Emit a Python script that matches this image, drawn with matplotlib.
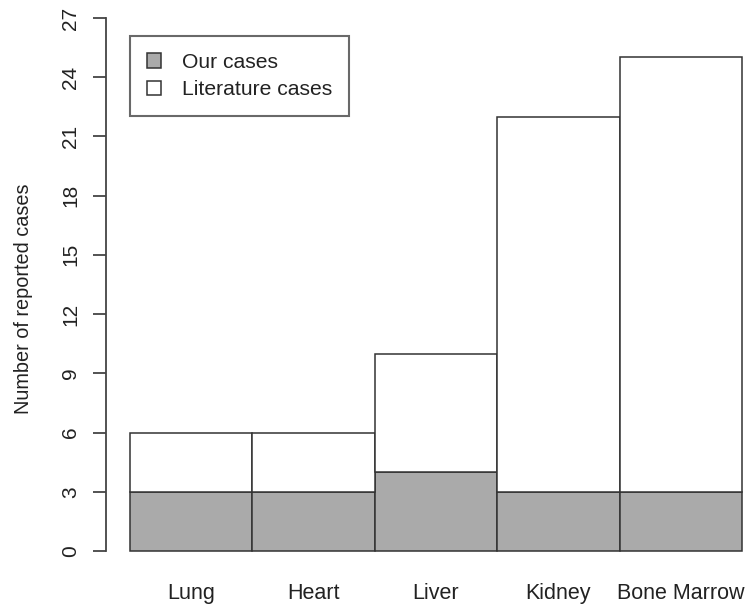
import matplotlib
matplotlib.use("Agg")
import matplotlib.pyplot as plt
from matplotlib.patches import Patch

categories = ["Lung", "Heart", "Liver", "Kidney", "Bone Marrow"]
our_cases = [3, 3, 4, 3, 3]
literature_cases = [3, 3, 6, 19, 22]
y_ticks = [0, 3, 6, 9, 12, 15, 18, 21, 24, 27]

plt.rcParams['font.family'] = ['Liberation Sans', 'DejaVu Sans']
W, H = 750, 609
fig = plt.figure(figsize=(W / 100, H / 100), dpi=100)

ax_left, ax_bottom_px = 105.5, 572.3
ax = fig.add_axes([ax_left / W, (H - ax_bottom_px) / H, (W - ax_left) / W, ax_bottom_px / H])

edge = "#333333"
gray = "#aaaaaa"
txt = "#222222"
x = [i + 0.5 for i in range(len(categories))]
ax.bar(x, our_cases, width=1.0, color=gray, edgecolor=edge, linewidth=1.1, label="Our cases")
ax.bar(x, literature_cases, width=1.0, bottom=our_cases, color="white", edgecolor=edge,
       linewidth=1.1, label="Literature cases")

ax.set_xlim(-0.2, 5.066)
ax.set_ylim(-1.08, 27.91)

for s in ["top", "right", "bottom"]:
    ax.spines[s].set_visible(False)
ax.spines["left"].set_bounds(0, 27)
ax.spines["left"].set_color("#444444")
ax.spines["left"].set_linewidth(1.3)

ax.set_yticks(y_ticks)
ax.set_yticklabels([str(v) for v in y_ticks], rotation=90, va="center", fontsize=15, color=txt)
ax.tick_params(axis="y", length=9.4, width=1.3, color="#444444", pad=9)
ax.set_xticks(x)
ax.set_xticklabels(categories, fontsize=15.5, color=txt)
ax.tick_params(axis="x", length=0, pad=7.7)

ax.set_ylabel("Number of reported cases", fontsize=14.3, color=txt)
ax.yaxis.set_label_coords((33 - ax_left) / (W - ax_left), (ax_bottom_px - 299) / ax_bottom_px)

handles = [Patch(facecolor=gray, edgecolor=edge, linewidth=1.1),
           Patch(facecolor="white", edgecolor=edge, linewidth=1.1)]
leg = ax.legend(handles, ["Our cases", "Literature cases"], loc="upper left",
                bbox_to_anchor=(130 / W, 1 - 36 / H), bbox_transform=fig.transFigure,
                fontsize=15.2, frameon=True, fancybox=False, handlelength=0.67, handleheight=0.67,
                handletextpad=1.0, borderpad=0.8, labelspacing=0.4, borderaxespad=0)
leg.get_frame().set_edgecolor("#444444")
leg.get_frame().set_linewidth(1.5)
for t in leg.get_texts():
    t.set_color(txt)

fig.savefig("out.png", dpi=100)
